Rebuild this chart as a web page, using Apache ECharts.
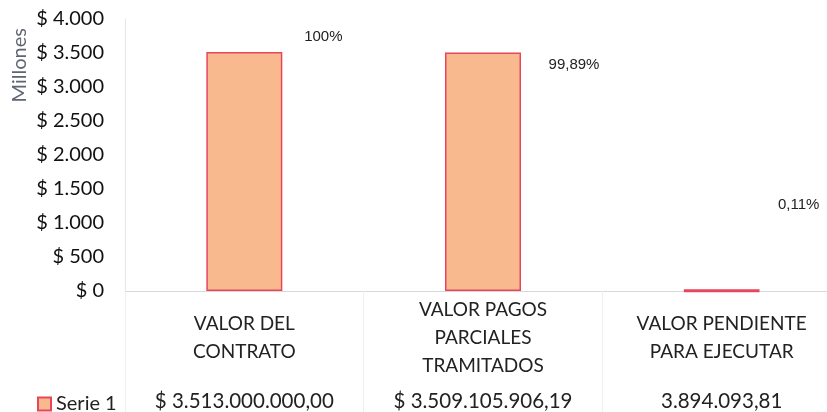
<!DOCTYPE html>
<html><head><meta charset="utf-8">
<script src="https://cdn.jsdelivr.net/npm/echarts@6/dist/echarts.min.js"></script>
<style>html,body{margin:0;padding:0;background:#fff;overflow:hidden;width:827px;height:412px}#c{width:845px;height:412px}</style>
</head><body><div id="c"></div>
<script>
const categories = ['VALOR DEL\nCONTRATO', 'VALOR PAGOS\nPARCIALES\nTRAMITADOS', 'VALOR PENDIENTE\nPARA EJECUTAR'];
const values = [3513.0, 3509.105906, 3.894094]; // millones
const tableValues = ['$ 3.513.000.000,00', '$ 3.509.105.906,19', '3.894.093,81'];
const pctLabels = ['100%', '99,89%', '0,11%'];
const yTicks = [0, 500, 1000, 1500, 2000, 2500, 3000, 3500, 4000];
const seriesName = 'Serie 1';
const yAxisName = 'Millones';

const labelOffsets = [[79, -3], [91, 25], [77, -72]];
const chart = echarts.init(document.getElementById('c'));
const font = 'Lato, "Open Sans", sans-serif';
chart.setOption({
  animation: false,
  grid: {left: 125, top: 19, right: 4, height: 272},
  legend: {
    data: [seriesName], left: 32, top: 389, itemWidth: 13, itemHeight: 13, itemGap: 6,
    icon: 'rect', textStyle: {fontFamily: font, fontSize: 20, color: '#222'}
  },
  graphic: [{
    type: 'text', left: 10, top: 28, rotation: Math.PI / 2,
    style: {text: yAxisName, font: '20px ' + font, fill: '#5f6672'}
  }],
  xAxis: [{
    type: 'category', data: categories, position: 'bottom',
    axisLine: {lineStyle: {color: '#d8d8d8'}},
    axisTick: {show: true, length: 121, lineStyle: {color: '#efefef'}},
    axisLabel: {fontFamily: font, fontSize: 19, color: '#222', lineHeight: 28, margin: 47, verticalAlign: 'middle', interval: 0}
  }, {
    type: 'category', data: tableValues, position: 'bottom', offset: 100,
    axisLine: {show: false}, axisTick: {show: false},
    axisLabel: {fontFamily: font, fontSize: 20.5, color: '#222', margin: 10, verticalAlign: 'middle', interval: 0}
  }],
  yAxis: {
    type: 'value', min: yTicks[0], max: yTicks[yTicks.length - 1], interval: 500,
    axisLine: {show: true, lineStyle: {color: '#e6e6e6'}},
    axisTick: {show: false},
    splitLine: {show: false},
    axisLabel: {
      fontFamily: font, fontSize: 20, color: '#111', margin: 21,
      formatter: v => '$ ' + String(v).replace(/\B(?=(\d{3})+(?!\d))/g, '.')
    }
  },
  series: [{
    name: seriesName, type: 'bar', barWidth: 76,
    itemStyle: {color: '#f9b98f', borderColor: '#e8475b', borderWidth: 1.5},
    data: values.map((v, i) => ({
      value: v,
      itemStyle: i === 2 ? {color: '#f2737f', borderColor: '#e8475b', borderWidth: 3} : undefined,
      label: {
        show: true, position: 'top', offset: labelOffsets[i],
        formatter: pctLabels[i], fontFamily: '"Liberation Sans", Arial', fontSize: 15, color: '#222'
      }
    }))
  }]
});
</script></body></html>
